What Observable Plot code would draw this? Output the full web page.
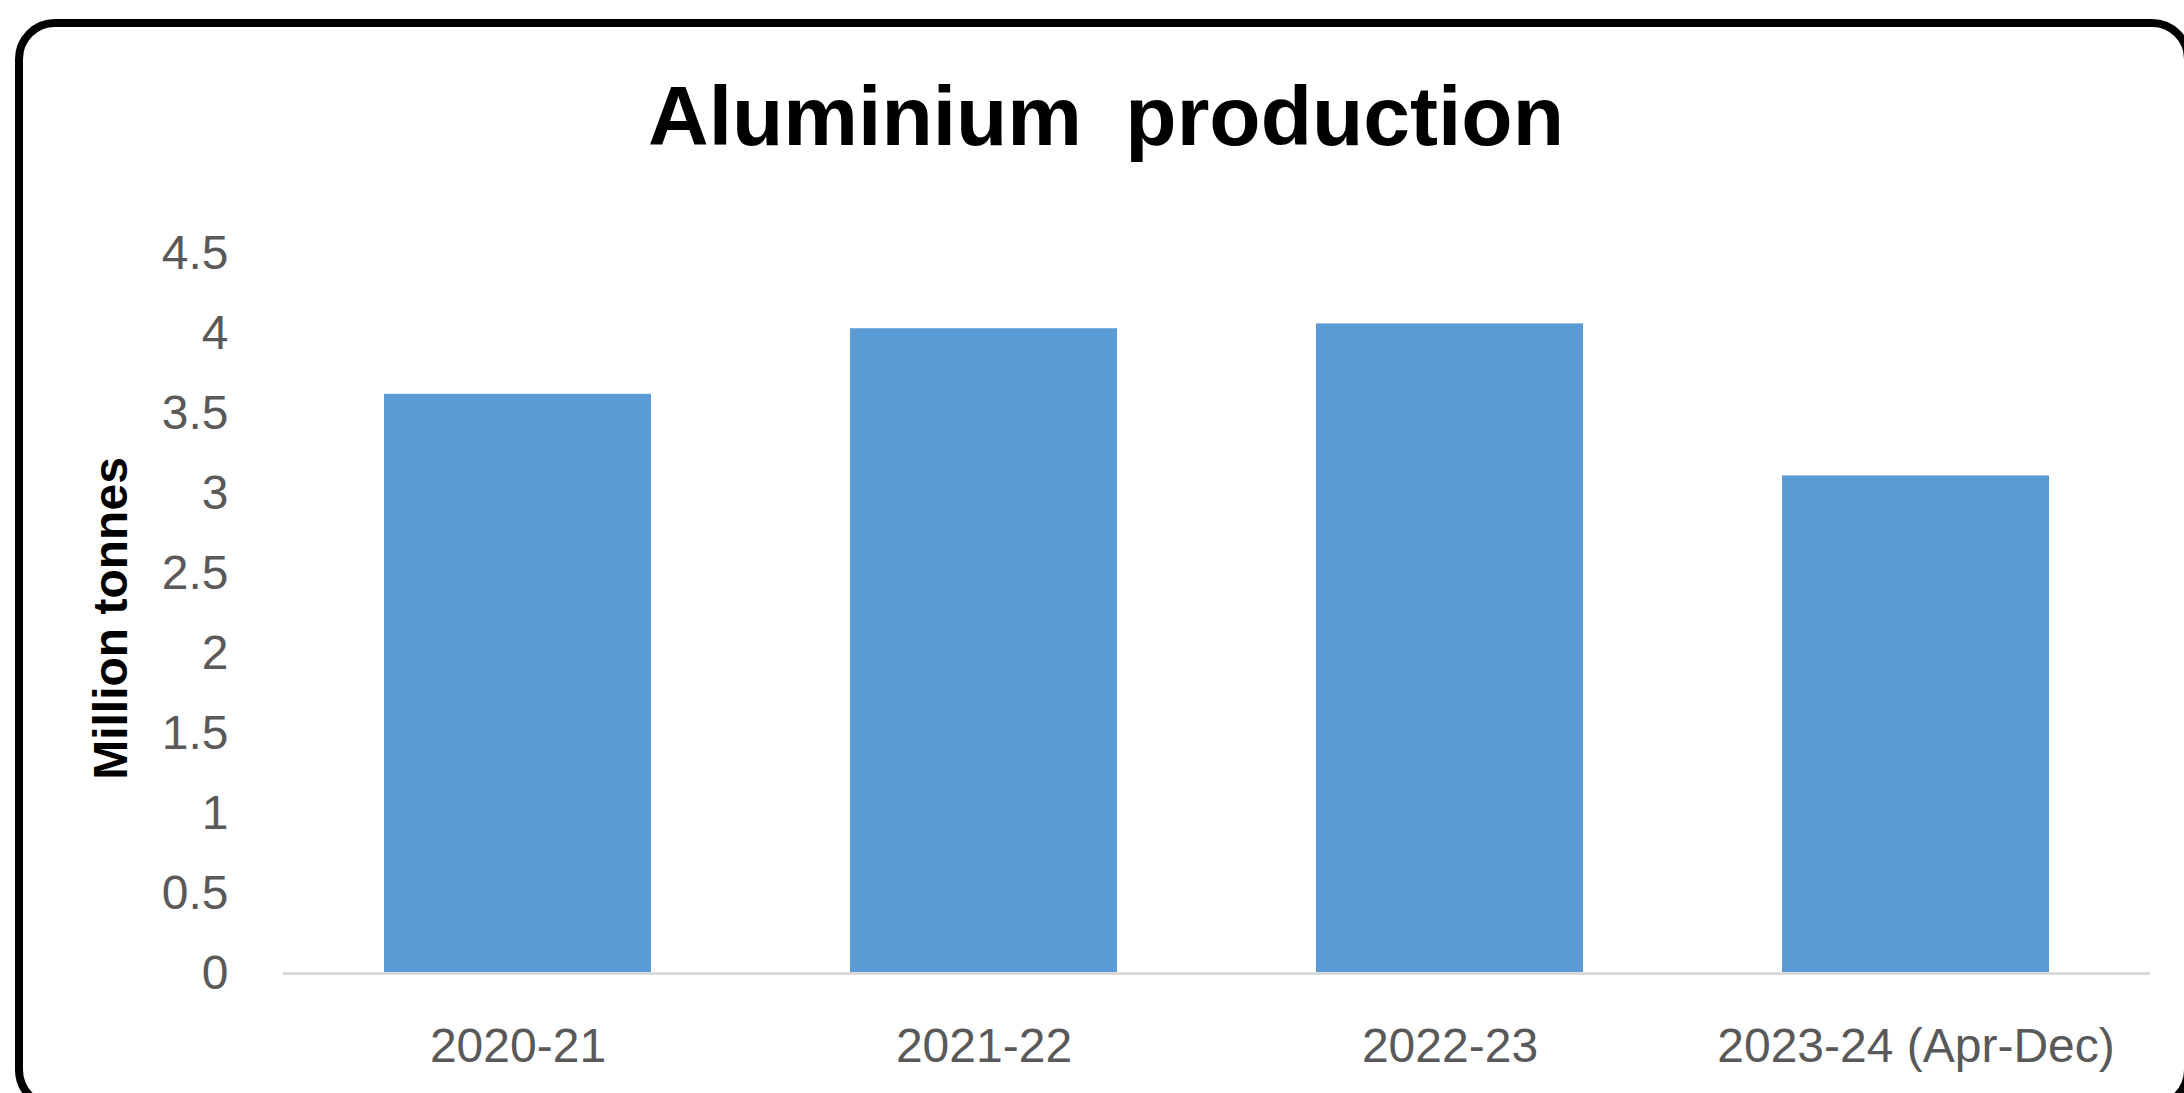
<!DOCTYPE html>
<html>
<head>
<meta charset="utf-8">
<script src="https://cdn.jsdelivr.net/npm/d3@7"></script>
<script src="https://cdn.jsdelivr.net/npm/@observablehq/plot@0.6"></script>
<style>
  html, body { margin: 0; padding: 0; background: #fff; }
  body { width: 2184px; height: 1093px; position: relative; overflow: hidden; font-family: "Liberation Sans", Arial, sans-serif; }
  #frame { position: absolute; left: 15px; top: 19px; width: 2177px; height: 1091px; box-sizing: border-box; border: 8px solid #000; border-radius: 40px; }
  #title { position: absolute; left: 0; top: 74px; width: 2212px; text-align: center; font-size: 84px; line-height: 84px; font-weight: bold; color: #000; word-spacing: 20px; }
  #chart { position: absolute; left: 0; top: 200px; }
</style>
</head>
<body>
<div id="frame"></div>
<div id="title">Aluminium production</div>
<div id="chart"></div>
<script>
const categories = ["2020-21", "2021-22", "2022-23", "2023-24 (Apr-Dec)"];
const values = [3.62, 4.03, 4.06, 3.11];
const yTicks = [0, 0.5, 1, 1.5, 2, 2.5, 3, 3.5, 4, 4.5];
const yTitle = "Million tonnes";

const data = categories.map((c, i) => ({period: c, value: values[i]}));

const chart = Plot.plot({
  width: 2184,
  height: 893,
  marginTop: 53,
  marginBottom: 120,
  marginLeft: 283,
  marginRight: 34,
  style: {fontFamily: "'Liberation Sans', Arial, sans-serif", fontSize: "48px", color: "#595959", background: "transparent", overflow: "visible"},
  x: {domain: categories, paddingInner: 0.428, paddingOuter: 0.214, label: null},
  y: {domain: [0, 4.5], label: null},
  marks: [
    Plot.barY(data, {x: "period", y: "value", fill: "#5B9BD5"}),
    Plot.ruleY([0], {stroke: "#D9D9D9", strokeWidth: 3}),
    Plot.axisY({ticks: yTicks, tickSize: 0, tickPadding: 55, tickFormat: d => String(d), label: null, fontSize: 48}),
    Plot.axisX({tickSize: 0, tickPadding: 54, label: null, fontSize: 48}),
    Plot.text([yTitle], {frameAnchor: "left", textAnchor: "middle", rotate: -90, dx: -172, dy: 5, fontSize: 48, fontWeight: "bold", fill: "#000"})
  ]
});
document.getElementById("chart").appendChild(chart);
</script>
</body>
</html>
